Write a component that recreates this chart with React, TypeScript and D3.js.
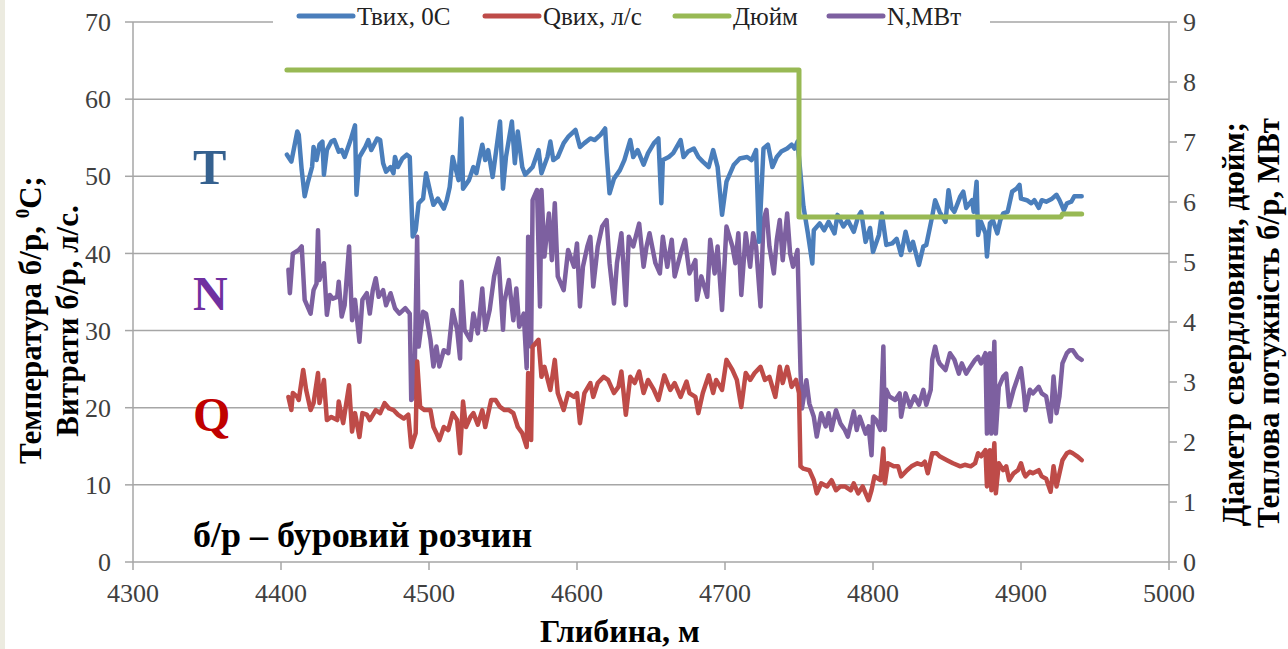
import React from "react";
import * as d3 from "d3";

// ---- data (depth in m) ----
const depthT = [4404,4407,4411,4412,4414,4416,4418,4421,4422,4424,4426,4428,4429,4431,4434,4436,4439,4441,4443,4447,4450,4451,4453,4457,4459,4461,4465,4467,4469,4471,4474,4476,4477,4479,4482,4485,4487,4489,4491,4493,4496,4498,4501,4503,4506,4510,4512,4514,4516,4520,4522,4523,4527,4530,4532,4536,4538,4540,4543,4548,4550,4552,4556,4558,4560,4563,4565,4568,4570,4574,4576,4580,4582,4584,4587,4591,4594,4599,4602,4605,4609,4612,4616,4619,4620,4622,4625,4629,4632,4636,4638,4641,4645,4648,4652,4655,4657,4658,4662,4665,4670,4672,4675,4679,4682,4685,4689,4692,4695,4698,4701,4706,4710,4715,4718,4721,4723,4726,4729,4732,4735,4738,4742,4745,4747,4749,4753,4756,4759,4760,4764,4767,4770,4774,4776,4780,4783,4787,4790,4792,4795,4798,4800,4804,4806,4809,4813,4816,4819,4822,4825,4827,4831,4834,4836,4840,4842,4844,4845,4849,4851,4853,4855,4859,4861,4863,4867,4868,4870,4871,4873,4876,4877,4879,4881,4884,4886,4888,4891,4894,4897,4899,4900,4904,4907,4909,4912,4914,4917,4921,4924,4926,4929,4931,4934,4936,4940,4941];
const valT = [52.8,51.9,55.8,55.4,50.8,47.4,49.1,51.2,53.8,52.1,54.1,54.5,50.2,53.4,54.5,54.7,53.2,53.4,52.5,54.7,56.6,47.6,52.5,53.8,54.7,53.4,54.9,54.7,51.7,50.6,51.2,50.4,52.5,51.2,52.3,52.8,52.5,42.2,43.0,46.5,47.1,50.4,47.8,46.3,47.1,45.8,46.9,48.6,52.5,49.5,57.5,48.4,49.5,51.2,50.4,54.1,52.1,53.4,49.9,57.1,48.4,52.5,57.1,51.7,55.8,51.2,50.2,50.8,51.2,53.4,50.4,52.5,54.5,52.1,52.5,54.3,55.1,56.0,53.8,54.3,54.9,54.7,55.4,56.2,53.0,47.8,49.7,50.8,52.1,54.7,52.5,53.4,51.5,53.0,54.3,54.9,46.5,52.1,52.5,53.0,54.7,52.5,53.2,53.6,52.5,51.9,51.2,53.4,51.2,45.0,49.3,51.5,52.3,52.5,52.1,53.4,41.5,53.6,54.1,51.2,52.5,53.2,53.6,54.1,53.6,54.5,46.1,42.6,38.7,43.0,43.9,43.0,44.1,42.6,45.0,43.5,44.3,42.8,44.8,45.4,41.5,43.3,40.2,42.4,45.2,41.1,41.3,41.9,39.8,42.8,40.4,41.5,38.5,40.9,41.1,44.8,46.9,45.9,45.4,44.1,48.2,45.9,45.4,47.4,48.0,45.9,46.9,45.4,49.3,42.4,44.1,42.6,39.6,43.9,44.3,42.6,44.3,45.2,45.4,48.0,48.4,48.9,47.1,46.9,46.5,46.9,45.9,46.9,46.7,47.1,47.6,46.9,45.6,46.5,46.7,47.4,47.4,47.4];

const depthQ = [4405,4407,4408,4411,4412,4415,4417,4420,4422,4425,4426,4429,4431,4434,4438,4439,4442,4446,4448,4450,4453,4455,4458,4460,4464,4467,4470,4473,4476,4479,4483,4486,4488,4491,4492,4494,4497,4501,4503,4505,4507,4510,4513,4516,4519,4521,4523,4525,4528,4530,4533,4536,4538,4542,4545,4548,4551,4554,4557,4560,4563,4566,4567,4569,4570,4574,4576,4578,4582,4585,4587,4591,4594,4598,4600,4602,4605,4609,4611,4614,4618,4621,4625,4628,4630,4633,4636,4639,4642,4645,4648,4652,4655,4659,4663,4666,4670,4674,4676,4680,4682,4685,4689,4692,4694,4698,4701,4705,4708,4711,4714,4717,4720,4724,4727,4730,4734,4737,4739,4742,4745,4748,4750,4751,4753,4757,4760,4762,4765,4769,4772,4775,4778,4781,4785,4787,4790,4793,4797,4799,4801,4805,4807,4808,4810,4814,4817,4819,4823,4826,4830,4833,4835,4837,4840,4843,4845,4850,4854,4859,4862,4866,4869,4871,4873,4876,4877,4879,4880,4882,4883,4885,4888,4890,4892,4895,4898,4900,4902,4903,4906,4908,4912,4914,4917,4920,4922,4924,4926,4928,4931,4933,4935,4938,4941];
const valQ = [21.4,19.7,21.9,21.4,21.0,24.9,22.3,19.7,20.6,24.5,20.6,23.6,18.4,18.8,18.4,20.8,18.0,22.9,16.9,19.3,16.2,19.3,19.1,18.4,19.7,19.3,20.6,19.9,19.7,19.1,18.6,19.1,14.9,16.7,26.0,20.1,19.7,19.7,17.5,16.7,15.8,17.5,17.1,19.3,18.4,14.1,20.8,17.5,18.8,19.3,17.8,19.7,17.5,21.0,21.0,20.1,19.7,19.7,19.3,17.5,16.7,14.9,24.5,15.8,27.9,28.8,24.0,25.3,22.3,26.2,21.9,19.7,21.9,21.4,21.9,18.0,21.9,23.2,21.4,23.2,24.0,23.6,21.9,22.7,24.7,19.1,24.0,23.2,24.7,21.9,23.6,22.3,21.0,24.2,22.3,23.2,21.4,23.4,21.9,21.4,19.3,21.9,24.2,21.9,23.6,22.3,26.2,24.9,23.6,20.1,24.5,23.6,24.5,25.3,23.6,24.0,21.4,25.3,23.2,25.3,22.7,23.6,21.9,12.4,12.1,11.9,10.6,8.9,10.2,9.8,10.6,9.3,9.8,9.8,9.3,10.2,8.9,9.8,8.0,9.3,11.1,10.6,14.7,10.2,12.8,12.4,12.4,11.1,11.9,12.4,12.8,12.6,13.0,11.5,14.1,14.1,13.7,13.2,12.8,12.4,12.6,12.4,12.8,14.1,13.7,14.5,9.8,14.5,9.3,15.4,8.9,12.8,11.9,12.4,10.6,11.5,11.9,12.8,11.5,11.1,11.7,11.5,11.9,11.1,10.8,9.1,12.4,9.8,11.5,13.2,14.1,14.3,14.1,13.7,13.2];

const depthN = [4405,4406,4408,4412,4414,4416,4420,4422,4424,4425,4426,4429,4431,4433,4435,4438,4439,4441,4443,4446,4448,4450,4453,4455,4458,4460,4462,4464,4466,4469,4471,4474,4477,4480,4484,4487,4488,4490,4492,4493,4496,4498,4501,4503,4505,4507,4510,4513,4516,4519,4521,4522,4524,4528,4530,4533,4536,4538,4541,4544,4547,4550,4551,4554,4557,4559,4561,4564,4566,4567,4569,4570,4573,4575,4576,4578,4581,4583,4585,4587,4591,4594,4598,4600,4602,4604,4607,4609,4611,4614,4617,4620,4622,4625,4627,4630,4633,4635,4638,4642,4645,4647,4649,4653,4656,4658,4661,4664,4666,4670,4673,4676,4680,4681,4684,4688,4690,4693,4695,4698,4701,4705,4707,4709,4711,4714,4717,4719,4721,4724,4726,4728,4730,4733,4735,4737,4739,4742,4744,4746,4749,4751,4752,4755,4757,4760,4762,4765,4768,4770,4772,4775,4778,4781,4783,4787,4789,4791,4795,4797,4799,4800,4802,4805,4807,4808,4809,4811,4815,4818,4819,4822,4825,4828,4831,4834,4836,4839,4840,4842,4844,4845,4849,4852,4855,4858,4860,4863,4866,4869,4871,4873,4876,4877,4879,4880,4882,4883,4885,4888,4890,4892,4895,4898,4900,4902,4903,4906,4908,4912,4914,4917,4920,4922,4924,4926,4928,4931,4933,4935,4938,4941];
const valN = [4.87,4.48,5.14,5.2,5.26,4.37,4.14,4.53,4.64,5.53,4.7,4.98,4.12,4.45,4.39,4.42,4.67,4.09,4.28,5.26,4.03,4.37,3.67,4.37,4.48,4.14,4.53,4.73,4.42,4.53,4.28,4.48,4.23,4.14,4.23,4.14,2.7,2.76,5.42,3.59,4.17,4.14,3.7,3.26,3.59,3.26,3.53,3.48,4.2,3.87,3.39,4.67,3.87,3.7,4.14,3.81,4.56,3.87,4.2,4.76,5.06,3.87,4.34,4.7,4.03,4.56,3.92,4.14,3.23,5.42,3.59,6.03,6.2,4.26,6.2,5.09,5.81,5.03,5.98,4.76,4.53,5.2,4.92,5.31,4.26,4.92,5.26,5.42,4.59,5.26,5.59,5.7,4.98,4.31,4.98,5.48,4.28,5.42,5.26,5.64,4.92,5.26,5.48,4.98,4.81,5.42,4.92,5.37,4.76,5.14,5.37,4.81,5.03,4.37,4.76,4.42,5.37,4.81,5.26,4.2,5.59,5.26,4.98,5.48,4.45,5.48,4.92,5.48,5.26,4.26,5.7,5.87,5.26,4.81,5.37,5.7,5.03,5.81,5.14,4.92,5.2,3.2,2.56,3.03,2.64,2.42,2.09,2.48,2.26,2.48,2.2,2.53,2.31,2.2,2.09,2.51,2.2,2.42,2.14,2.26,1.78,2.42,2.37,2.2,3.59,2.2,2.87,2.76,2.7,2.81,2.42,2.81,2.59,2.76,2.62,2.87,2.62,2.87,3.37,3.59,3.37,3.31,3.2,3.48,3.37,3.14,3.31,3.14,3.26,3.37,3.42,3.31,3.48,2.14,3.48,2.14,3.67,2.14,2.92,3.09,3.14,2.59,2.87,3.09,3.23,2.81,2.53,2.87,2.81,2.92,2.81,2.76,2.34,3.09,2.48,2.76,3.31,3.48,3.53,3.53,3.42,3.37];

const depthD = [4404, 4750, 4750, 4927, 4928, 4941];
const valD = [8.2, 8.2, 5.75, 5.75, 5.8, 5.8];

const xTicks = [4300, 4400, 4500, 4600, 4700, 4800, 4900, 5000];
const yLeftTicks = [0, 10, 20, 30, 40, 50, 60, 70];
const yRightTicks = [0, 1, 2, 3, 4, 5, 6, 7, 8, 9];

const legendItems = [
  { label: "Твих, 0С", color: "#4a7ebb" },
  { label: "Qвих, л/с", color: "#be4b48" },
  { label: "Дюйм", color: "#98b954" },
  { label: "N,МВт", color: "#7d60a0" },
];

const W = 1288, H = 649;
const serif = "'Liberation Serif', 'Times New Roman', serif";

export default function App() {
  const x = d3.scaleLinear().domain([4300, 5000]).range([133, 1169]);
  const yL = d3.scaleLinear().domain([0, 70]).range([562, 22]);
  const yR = d3.scaleLinear().domain([0, 9]).range([562, 22]);

  const mk = (ds: number[], vs: number[], y: d3.ScaleLinear<number, number>) =>
    d3.line<number>().x((_, i) => x(ds[i])).y((v) => y(v))(vs) || "";

  const pathT = mk(depthT, valT, yL);
  const pathQ = mk(depthQ, valQ, yL);
  const pathN = mk(depthN, valN, yR);
  const pathD = mk(depthD, valD, yR);

  const gridColor = "#a6a6a6";
  const legendX = [299, 485, 675, 829];
  const sw = 4.5;

  return (
    <div style={{ position: "fixed", left: 0, top: 0, width: W, height: H, background: "#fff" }}>
      <svg width={W} height={H} style={{ display: "block" }} fontFamily={serif}>
        <rect x={0} y={0} width={W} height={H} fill="#ffffff" />
        <rect x={0} y={0} width={5} height={H} fill="#ecebe0" />

        {/* gridlines */}
        {yLeftTicks.filter((t) => t > 0).map((t) => (
          <line key={"g" + t} x1={x(4300)} x2={x(5000)} y1={yL(t)} y2={yL(t)} stroke={gridColor} strokeWidth={1.5} />
        ))}
        {/* axes */}
        <line x1={x(4300)} x2={x(4300)} y1={yL(70)} y2={yL(0)} stroke={gridColor} strokeWidth={1.5} />
        <line x1={x(5000)} x2={x(5000)} y1={yR(9)} y2={yR(0)} stroke={gridColor} strokeWidth={1.5} />
        <line x1={x(4300)} x2={x(5000)} y1={yL(0)} y2={yL(0)} stroke={gridColor} strokeWidth={1.5} />
        {yLeftTicks.map((t) => (
          <g key={"yl" + t}>
            <line x1={x(4300) - 8} x2={x(4300)} y1={yL(t)} y2={yL(t)} stroke={gridColor} strokeWidth={1.5} />
            <text x={111} y={yL(t)} dy="0.35em" textAnchor="end" fontSize={26} fill="#404040">{t}</text>
          </g>
        ))}
        {yRightTicks.map((t) => (
          <g key={"yr" + t}>
            <line x1={x(5000)} x2={x(5000) + 8} y1={yR(t)} y2={yR(t)} stroke={gridColor} strokeWidth={1.5} />
            <text x={1183} y={yR(t)} dy="0.35em" textAnchor="start" fontSize={26} fill="#404040">{t}</text>
          </g>
        ))}
        {xTicks.map((t) => (
          <g key={"x" + t}>
            <line x1={x(t)} x2={x(t)} y1={yL(0)} y2={yL(0) + 8} stroke={gridColor} strokeWidth={1.5} />
            <text x={x(t)} y={602} textAnchor="middle" fontSize={26} fill="#404040">{t}</text>
          </g>
        ))}

        {/* series */}
        <path d={pathN} fill="none" stroke="#7d60a0" strokeWidth={sw} strokeLinejoin="round" strokeLinecap="round" />
        <path d={pathT} fill="none" stroke="#4a7ebb" strokeWidth={sw} strokeLinejoin="round" strokeLinecap="round" />
        <path d={pathQ} fill="none" stroke="#be4b48" strokeWidth={sw} strokeLinejoin="round" strokeLinecap="round" />
        <path d={pathD} fill="none" stroke="#98b954" strokeWidth={5} strokeLinejoin="round" strokeLinecap="round" />

        {/* legend */}
        <rect x={273} y={4} width={717} height={30} fill="#ffffff" />
        {legendItems.map((it, i) => (
          <g key={it.label}>
            <line x1={legendX[i]} x2={legendX[i] + 54} y1={16} y2={16} stroke={it.color} strokeWidth={5} strokeLinecap="round" />
            <text x={legendX[i] + 58} y={25} fontSize={25} fill="#222">{it.label}</text>
          </g>
        ))}

        {/* annotations */}
        <text x={193} y={184} fontSize={50} fontWeight="bold" fill="#35618f">T</text>
        <text x={193} y={310} fontSize={48} fontWeight="bold" fill="#7030a0">N</text>
        <text x={193} y={431} fontSize={48} fontWeight="bold" fill="#c00000">Q</text>
        <text x={193} y={547} fontSize={36} fontWeight="bold" fill="#000">б/р – буровий розчин</text>

        {/* axis titles */}
        <text x={620} y={642} textAnchor="middle" fontSize={32} fontWeight="bold" fill="#000">Глибина, м</text>
        <g transform="translate(41,320) rotate(-90)">
          <text x={0} y={0} textAnchor="middle" fontSize={31} fontWeight="bold" fill="#000">
            Температура б/р, <tspan fontSize={19} dy={-12}>0</tspan><tspan dy={12}>С;</tspan>
          </text>
        </g>
        <g transform="translate(78,321) rotate(-90)">
          <text x={0} y={0} textAnchor="middle" fontSize={31} fontWeight="bold" fill="#000">Витрати б/р, л/с.</text>
        </g>
        <g transform="translate(1244,324) rotate(-90)">
          <text x={0} y={0} textAnchor="middle" fontSize={31} fontWeight="bold" fill="#000">Діаметр свердловини, дюйм;</text>
        </g>
        <g transform="translate(1279,323) rotate(-90)">
          <text x={0} y={0} textAnchor="middle" fontSize={31} fontWeight="bold" fill="#000">Теплова потужність б/р, МВт</text>
        </g>
      </svg>
    </div>
  );
}
